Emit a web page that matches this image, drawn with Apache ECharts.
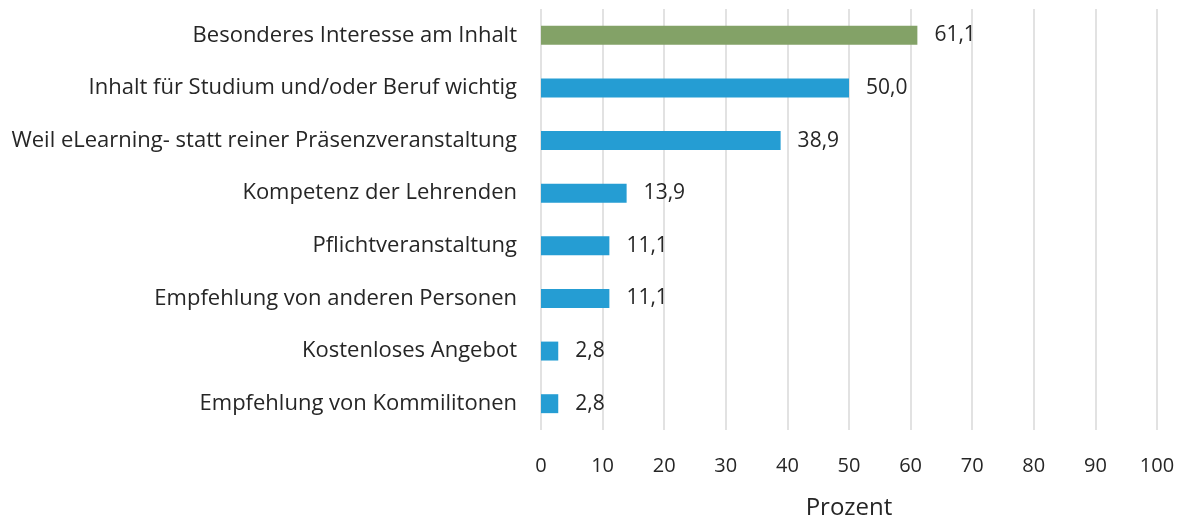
<!DOCTYPE html>
<html>
<head>
<meta charset="utf-8">
<script src="https://cdn.jsdelivr.net/npm/echarts@6/dist/echarts.min.js"></script>
<style>
  html, body { margin: 0; padding: 0; background: #fff; }
  #chart { width: 1184px; height: 522px; }
</style>
</head>
<body>
<div id="chart"></div>
<script>
// Gründe für die Teilnahme (Prozent)
var categories = [
    'Besonderes Interesse am Inhalt',
    'Inhalt für Studium und/oder Beruf wichtig',
    'Weil eLearning- statt reiner Präsenzveranstaltung',
    'Kompetenz der Lehrenden',
    'Pflichtveranstaltung',
    'Empfehlung von anderen Personen',
    'Kostenloses Angebot',
    'Empfehlung von Kommilitonen'
];
var values = [61.1, 50.0, 38.9, 13.9, 11.1, 11.1, 2.8, 2.8];
var highlight = [true, false, false, false, false, false, false, false];

var font = '"Open Sans", "Noto Sans", sans-serif';
var chart = echarts.init(document.getElementById('chart'));

chart.setOption({
    animation: false,
    grid: {left: 541, right: 27, top: 9, bottom: 92, containLabel: false, outerBoundsMode: 'none'},
    xAxis: {
        type: 'value',
        min: 0,
        max: 100,
        interval: 10,
        name: 'Prozent',
        nameLocation: 'middle',
        nameGap: 66,
        nameTextStyle: {fontFamily: font, fontSize: 24, color: '#262626'},
        axisLine: {show: false},
        axisTick: {show: false},
        axisLabel: {fontFamily: font, fontSize: 20, color: '#262626', margin: 26},
        splitLine: {lineStyle: {color: '#d9d9d9', width: 1.5}}
    },
    yAxis: {
        type: 'category',
        inverse: true,
        data: categories,
        axisLine: {show: false},
        axisTick: {show: false},
        axisLabel: {fontFamily: font, fontSize: 22, color: '#262626', margin: 24}
    },
    series: [{
        type: 'bar',
        barWidth: '36%',
        data: values.map(function (v, i) {
            return {value: v, itemStyle: {color: highlight[i] ? '#83a267' : '#259dd3'}};
        }),
        label: {
            show: true,
            position: 'right',
            distance: 17,
            fontFamily: font,
            fontSize: 21,
            color: '#262626',
            formatter: function (p) { return p.value.toFixed(1).replace('.', ','); }
        }
    }]
});
</script>
</body>
</html>
